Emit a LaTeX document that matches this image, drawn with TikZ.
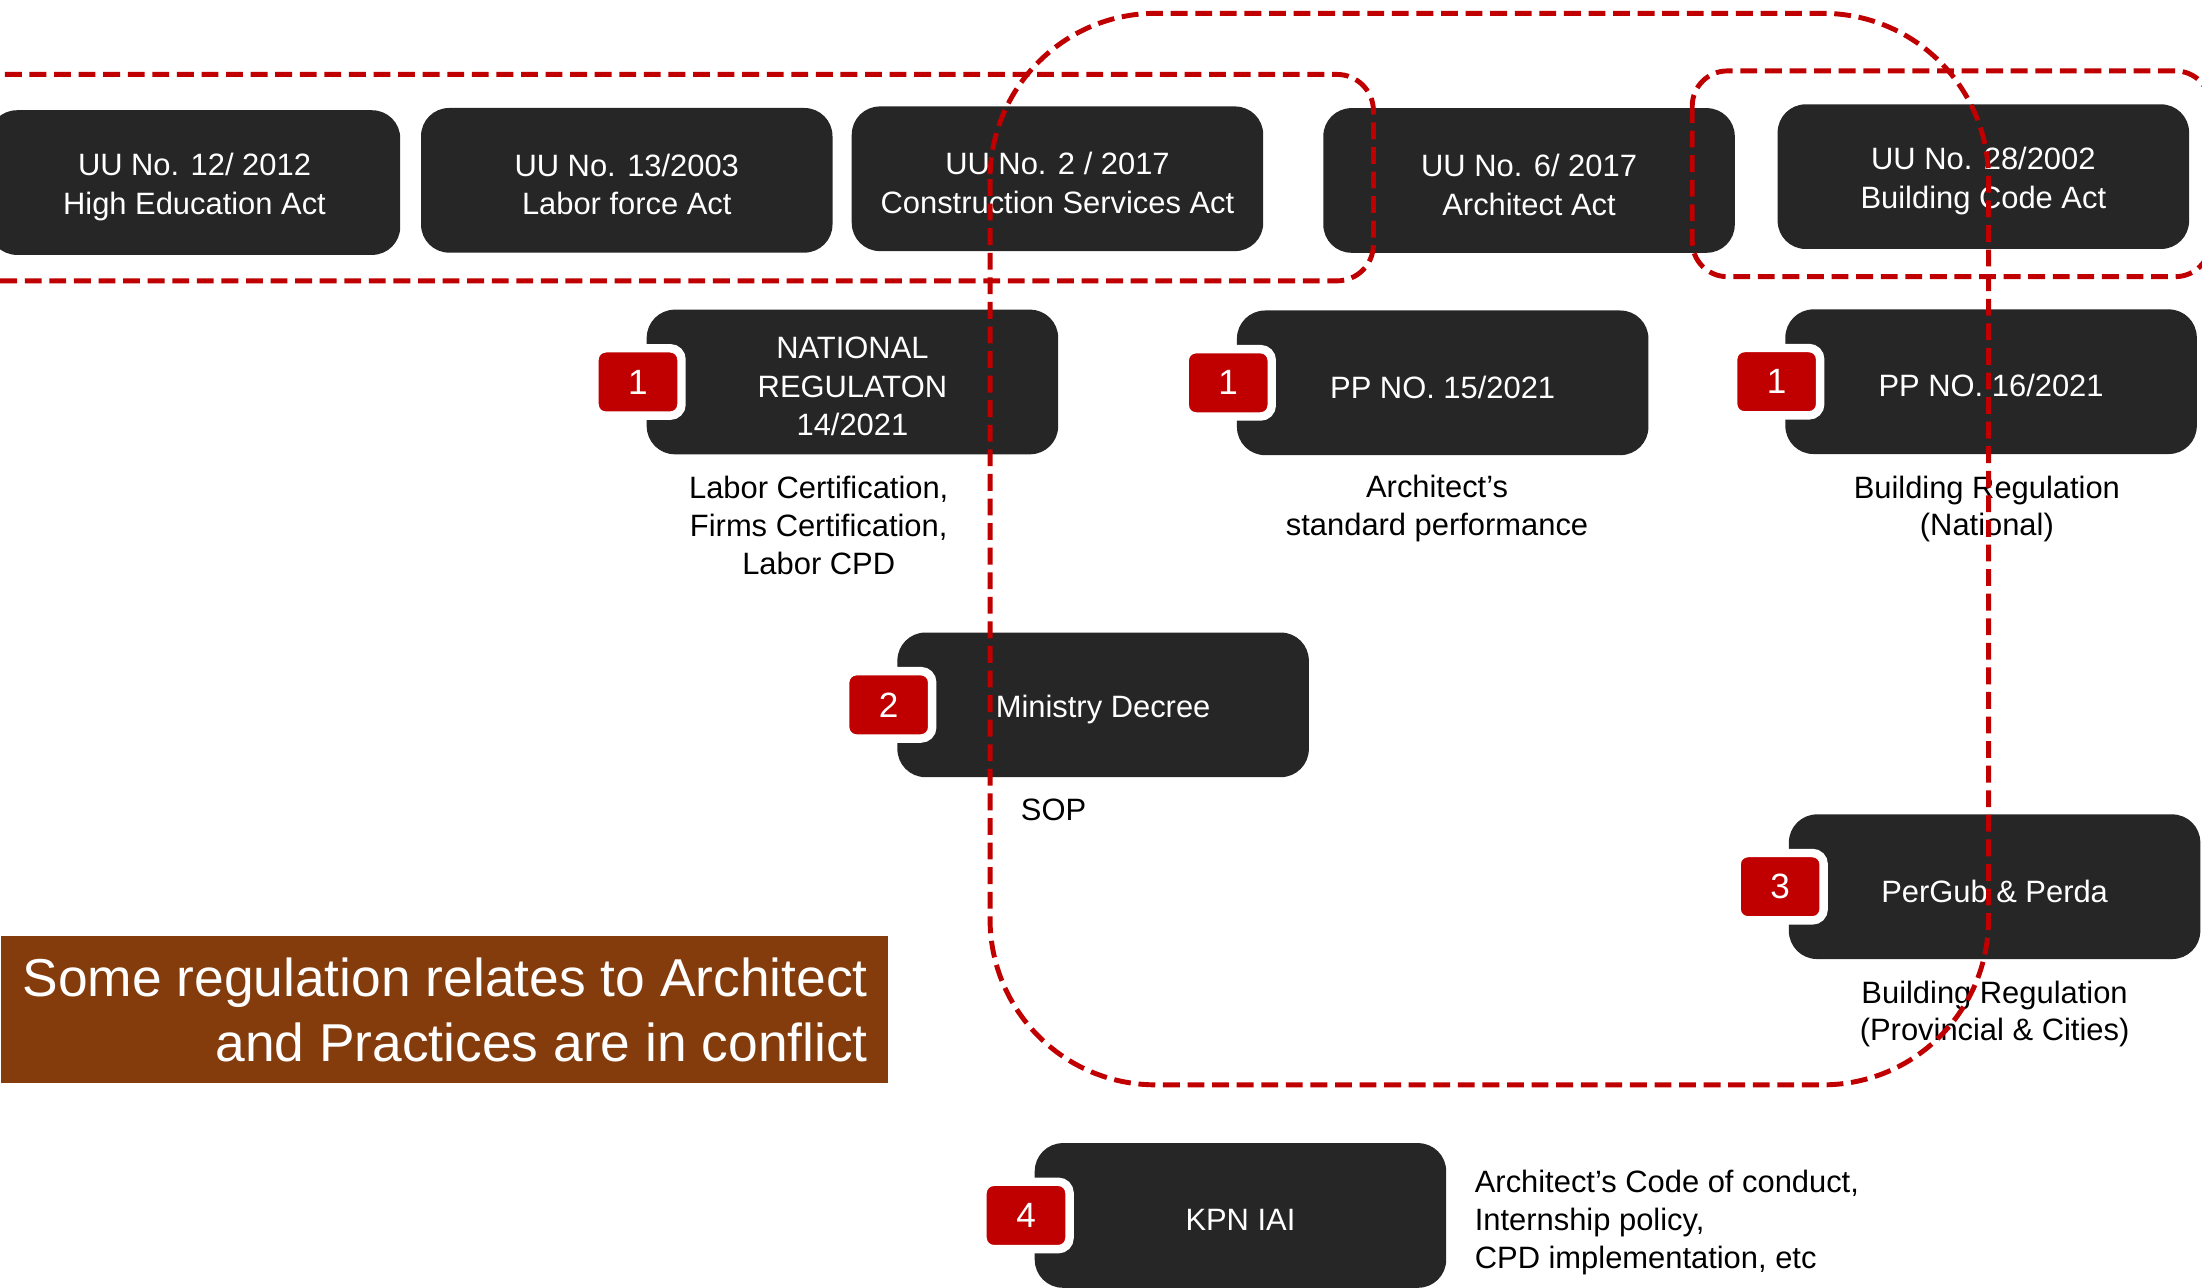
\documentclass[tikz,border=0pt]{standalone}
\usepackage{fontspec}
\setmainfont{Liberation Sans}
\usetikzlibrary{positioning}
\definecolor{boxgray}{HTML}{262626}
\definecolor{badgered}{HTML}{C00000}
\definecolor{notebrown}{HTML}{843C0C}
\newcommand{\lineup}{\rule{0pt}{22pt}}
\begin{document}
\begin{tikzpicture}[x=1pt, y=-1pt,
    act node/.style={rectangle, rounded corners=20pt, fill=boxgray, text=white, font=\fontsize{22}{27.5}\selectfont, align=center, minimum width=293pt, minimum height=103pt, inner sep=0pt, execute at begin node={\lineup}},
    num node/.style={rectangle, rounded corners=8pt, fill=badgered, draw=white, line width=6pt, text=white, font=\fontsize{25}{30}\selectfont, minimum width=62pt, minimum height=48pt, inner sep=0pt},
    note node/.style={font=\fontsize{22}{27}\selectfont, align=center, inner sep=0pt},
    conflict/.style={draw=badgered, line width=3.5pt, dash pattern=on 12pt off 5.5pt, rounded corners=#1}]

    \useasboundingbox (0,0) rectangle (1568,917);
    \clip (0,0) rectangle (1568,917);

    \node[act node] at (138.5, 130) (uu12) {\lineup UU No. 12/ 2012\\High Education Act};
    \node[act node] at (446.3, 128.4) (uu13) {\lineup UU No. 13/2003\\Labor force Act};
    \node[act node] at (753, 127.3) (uu2) {\lineup UU No. 2 / 2017\\Construction Services Act};
    \node[act node] at (1088.8, 128.5) (uu6) {\lineup UU No. 6/ 2017\\Architect Act};
    \node[act node] at (1412.3, 125.8) (uu28) {\lineup UU No. 28/2002\\Building Code Act};

    \node[act node] at (607, 272) (pp14) {\lineup NATIONAL\\REGULATON\\14/2021};
    \node[act node] at (1027.3, 272.6) (pp15) {PP NO. 15/2021};
    \node[act node] at (1417.8, 271.8) (pp16) {PP NO. 16/2021};
    \node[act node] at (785.5, 501.9) (decree) {Ministry Decree};
    \node[act node] at (1420.3, 631.4) (perda) {PerGub \& Perda};
    \node[act node] at (883.3, 865.5) (kpn) {KPN IAI};

    \node[num node] at ([xshift=-6pt]pp14.west) (num14) {1};
    \node[num node] at ([xshift=-6pt]pp15.west) (num15) {1};
    \node[num node] at ([xshift=-6pt]pp16.west) (num16) {1};
    \node[num node] at ([xshift=-6pt]decree.west) (numdecree) {2};
    \node[num node] at ([xshift=-6pt]perda.west) (numperda) {3};
    \node[num node] at ([xshift=-6pt]kpn.west) (numkpn) {4};

    \node[note node, below=15pt of pp14, xshift=-24pt] (label14) {Labor Certification,\\Firms Certification,\\Labor CPD};
    \node[note node, below=14pt of pp15, xshift=-4pt] (label15) {Architect’s\\standard performance};
    \node[note node, below=15pt of pp16, xshift=-3pt] (label16) {Building Regulation\\(National)};
    \node[note node, below right=15pt and 88pt of decree.south west] (sop) {SOP};
    \node[note node, below=15pt of perda] (labelperda) {Building Regulation\\(Provincial \& Cities)};
    \node[note node, right=20pt of kpn, align=left, yshift=-5pt] (labelkpn) {Architect’s Code of conduct,\\Internship policy,\\CPD implementation, etc};

    \node[fill=notebrown, minimum width=631pt, minimum height=105pt, inner sep=0pt] at (316.5, 719) (conflictnote) {};
    \node[anchor=east, text=white, font=\fontsize{38}{46}\selectfont, align=right, inner sep=0pt] at ([xshift=-14pt]conflictnote.east) (conflicttext) {Some regulation relates to Architect\\and Practices are in conflict};

    \draw[conflict=26pt] (-30, 53) rectangle (978, 200);
    \draw[conflict=25pt] (1205, 50.5) rectangle (1574, 197);
    \draw[conflict=118pt] (705, 9.5) rectangle (1416, 772.5);

\end{tikzpicture}
\end{document}
